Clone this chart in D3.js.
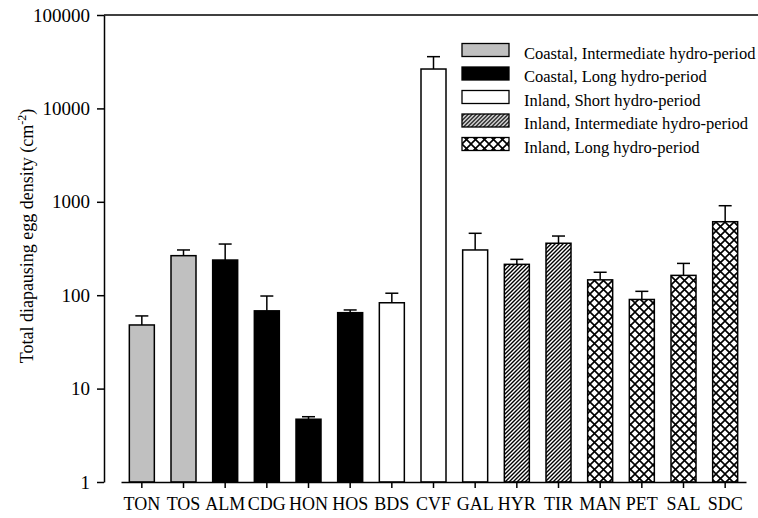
<!DOCTYPE html>
<html>
<head>
<meta charset="utf-8">
<script src="https://cdn.jsdelivr.net/npm/d3@7"></script>
<style>
    body { margin: 0; background: #fff; }
    #chart { width: 758px; height: 518px; }
    text { font-family: "Liberation Serif", "Times New Roman", serif; fill: #000; }
</style>
</head>
<body>
<div id="chart"></div>
<script>
// --- Data ---
const sites = ["TON", "TOS", "ALM", "CDG", "HON", "HOS", "BDS", "CVF", "GAL", "HYR", "TIR", "MAN", "PET", "SAL", "SDC"];
const meanDensity = [48, 265, 238, 68, 4.7, 65, 83, 26400, 305, 214, 360, 146, 90, 163, 612];
const stdError = [12, 40, 115, 30, 0.3, 4.5, 22, 9400, 155, 28, 70, 30, 20, 56, 296];
const siteGroup = [0, 0, 1, 1, 1, 1, 2, 2, 2, 3, 3, 4, 4, 4, 4];
const groupLabels = [
    "Coastal, Intermediate hydro-period",
    "Coastal, Long hydro-period",
    "Inland, Short hydro-period",
    "Inland, Intermediate hydro-period",
    "Inland, Long hydro-period"
];
const yTicks = [1, 10, 100, 1000, 10000, 100000];

const dimensions = {
    width: 758,
    height: 518,
    margin: { top: 15, right: 0, bottom: 36, left: 104 }
};
const width = dimensions.width - dimensions.margin.left - dimensions.margin.right;
const height = dimensions.height - dimensions.margin.top - dimensions.margin.bottom;

const svg = d3.select("#chart").append("svg")
    .attr("width", dimensions.width)
    .attr("height", dimensions.height);

// patterns for the inland groups
const defs = svg.append("defs");
defs.append("pattern")
    .attr("id", "hatch")
    .attr("patternUnits", "userSpaceOnUse")
    .attr("width", 4).attr("height", 4)
    .call(p => {
        p.append("rect").attr("width", 4).attr("height", 4).attr("fill", "#fff");
        p.append("path")
            .attr("d", "M-1,1 l2,-2 M0,4 l4,-4 M3,5 l2,-2")
            .attr("stroke", "#000").attr("stroke-width", 1.4);
    });
defs.append("pattern")
    .attr("id", "cross")
    .attr("patternUnits", "userSpaceOnUse")
    .attr("width", 9).attr("height", 9)
    .call(p => {
        p.append("rect").attr("width", 9).attr("height", 9).attr("fill", "#fff");
        p.append("path")
            .attr("d", "M0,0 L9,9 M0,9 L9,0")
            .attr("stroke", "#000").attr("stroke-width", 1.6);
    });

const groupFill = ["#c0c0c0", "#000", "#fff", "url(#hatch)", "url(#cross)"];

const g = svg.append("g")
    .attr("transform", `translate(${dimensions.margin.left}, ${dimensions.margin.top})`);

const xScale = d3.scaleBand()
    .domain(sites)
    .range([17, 642])
    .paddingInner(0.4)
    .paddingOuter(0.2);

const yScale = d3.scaleLog()
    .domain([1, 100000])
    .range([height, 0]);

// --- BARS ---
const data = sites.map((s, i) => ({
    site: s,
    mean: meanDensity[i],
    se: stdError[i],
    group: siteGroup[i]
}));

// error whiskers (upper only)
const capHalf = 6.5;
const err = g.append("g").attr("class", "errors");
data.forEach(d => {
    const cx = xScale(d.site) + xScale.bandwidth() / 2;
    const yTop = yScale(d.mean + d.se);
    err.append("line")
        .attr("x1", cx).attr("x2", cx)
        .attr("y1", yScale(d.mean)).attr("y2", yTop)
        .attr("stroke", "#000").attr("stroke-width", 1.5);
    err.append("line")
        .attr("x1", cx - capHalf).attr("x2", cx + capHalf)
        .attr("y1", yTop).attr("y2", yTop)
        .attr("stroke", "#000").attr("stroke-width", 1.5);
});

g.append("g").attr("class", "bars")
    .selectAll("rect")
    .data(data)
    .enter()
    .append("rect")
    .attr("x", d => xScale(d.site))
    .attr("y", d => yScale(d.mean))
    .attr("width", xScale.bandwidth())
    .attr("height", d => height - yScale(d.mean))
    .attr("fill", d => groupFill[d.group])
    .attr("stroke", "#000")
    .attr("stroke-width", 1.5);

// --- AXES ---
const yAxis = g.append("g")
    .attr("class", "y-axis")
    .call(d3.axisLeft(yScale)
        .tickValues(yTicks)
        .tickFormat(d3.format("d"))
        .tickSize(7)
        .tickSizeOuter(0));
yAxis.selectAll("text").style("font-size", "19px").attr("x", -14);

const xAxis = g.append("g")
    .attr("class", "x-axis")
    .attr("transform", `translate(0, ${height})`)
    .call(d3.axisBottom(xScale).tickSize(6).tickSizeOuter(0));
xAxis.selectAll("text").style("font-size", "18px").attr("y", 15);

svg.selectAll(".domain, .tick line").attr("stroke", "#000").attr("stroke-width", 1.5);

// top frame line
g.append("line")
    .attr("x1", 0).attr("x2", width)
    .attr("y1", 0).attr("y2", 0)
    .attr("stroke", "#000").attr("stroke-width", 1.5);

// Y axis title
const yTitle = svg.append("text")
    .attr("transform", `translate(33, 236) rotate(-90)`)
    .attr("text-anchor", "middle")
    .style("font-size", "18px");
yTitle.append("tspan").text("Total diapausing egg density (cm");
yTitle.append("tspan").attr("dy", -7).style("font-size", "12px").text("-2");
yTitle.append("tspan").attr("dy", 7).text(")");

// --- LEGEND ---
const legend = svg.append("g")
    .attr("class", "legend")
    .attr("transform", "translate(462, 50)");

const legendItems = legend.selectAll(".legend-item")
    .data(groupLabels)
    .enter()
    .append("g")
    .attr("class", "legend-item")
    .attr("transform", (d, i) => `translate(0, ${i * 23.5})`);

legendItems.append("rect")
    .attr("x", 0)
    .attr("y", -6.5)
    .attr("width", 47)
    .attr("height", 13)
    .attr("fill", (d, i) => groupFill[i])
    .attr("stroke", "#000")
    .attr("stroke-width", 1.3);

legendItems.append("text")
    .attr("x", 62)
    .attr("y", 8.5)
    .style("font-size", "16.5px")
    .text(d => d);
</script>
</body>
</html>
